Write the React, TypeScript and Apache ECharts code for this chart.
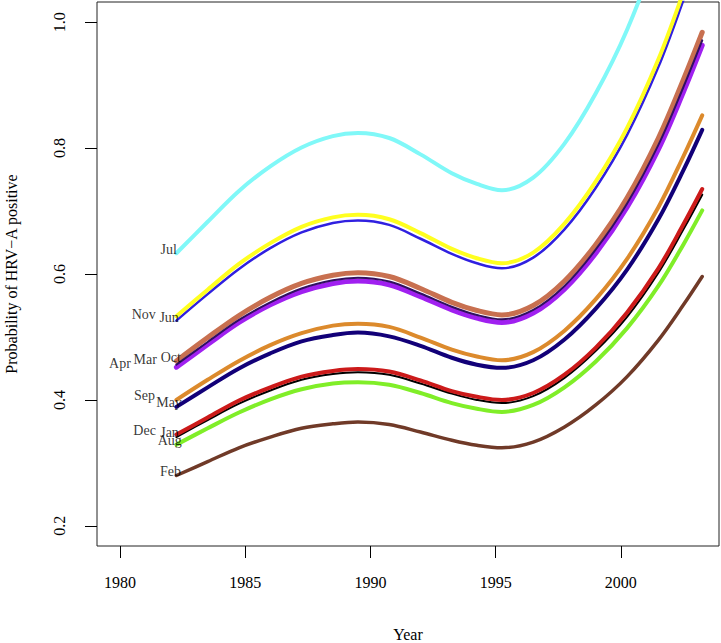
import React, { useEffect, useRef } from "react";
import * as echarts from "echarts";

// Years at which each fitted curve is sampled (includes the peak and trough years)
const years = [1982.25, 1983.5, 1984.75, 1986, 1987.25, 1988.5, 1989.5, 1990.75, 1992, 1993.25, 1994.25, 1995.25, 1996.5, 1997.75, 1999, 2000.25, 2001.5, 2002.5, 2003.25];

// Fitted probability of HRV-A positive, by month of sampling
const jul = [0.633, 0.683, 0.732, 0.771, 0.801, 0.819, 0.824, 0.816, 0.790, 0.760, 0.743, 0.733, 0.753, 0.807, 0.887, 0.988, 1.118, 1.245, 1.348];
const jun = [0.533, 0.575, 0.616, 0.649, 0.675, 0.690, 0.694, 0.687, 0.665, 0.640, 0.625, 0.617, 0.634, 0.680, 0.747, 0.832, 0.941, 1.048, 1.135];
const nov = [0.526, 0.568, 0.608, 0.641, 0.666, 0.681, 0.685, 0.678, 0.656, 0.632, 0.617, 0.609, 0.626, 0.671, 0.737, 0.821, 0.929, 1.035, 1.120];
const oct = [0.462, 0.499, 0.534, 0.563, 0.585, 0.598, 0.602, 0.596, 0.577, 0.555, 0.542, 0.535, 0.550, 0.589, 0.647, 0.721, 0.816, 0.909, 0.984];
const mar = [0.456, 0.492, 0.527, 0.555, 0.577, 0.590, 0.594, 0.588, 0.569, 0.548, 0.535, 0.528, 0.543, 0.581, 0.639, 0.712, 0.805, 0.897, 0.971];
const apr = [0.452, 0.488, 0.523, 0.551, 0.572, 0.585, 0.589, 0.583, 0.564, 0.543, 0.530, 0.523, 0.538, 0.576, 0.633, 0.706, 0.798, 0.889, 0.963];
const sep = [0.400, 0.432, 0.462, 0.487, 0.506, 0.518, 0.521, 0.516, 0.499, 0.480, 0.469, 0.463, 0.476, 0.510, 0.560, 0.624, 0.706, 0.787, 0.852];
const may = [0.389, 0.420, 0.450, 0.474, 0.493, 0.503, 0.507, 0.501, 0.486, 0.467, 0.456, 0.451, 0.463, 0.496, 0.545, 0.607, 0.687, 0.765, 0.829];
const dec = [0.345, 0.372, 0.399, 0.420, 0.437, 0.446, 0.449, 0.445, 0.431, 0.414, 0.405, 0.400, 0.411, 0.440, 0.483, 0.539, 0.609, 0.679, 0.735];
const jan = [0.341, 0.368, 0.394, 0.415, 0.432, 0.441, 0.444, 0.440, 0.426, 0.410, 0.400, 0.395, 0.406, 0.435, 0.478, 0.532, 0.602, 0.671, 0.726];
const aug = [0.329, 0.355, 0.380, 0.401, 0.417, 0.426, 0.428, 0.424, 0.411, 0.395, 0.386, 0.381, 0.392, 0.420, 0.461, 0.514, 0.581, 0.647, 0.701];
const feb = [0.280, 0.302, 0.324, 0.341, 0.355, 0.362, 0.365, 0.361, 0.349, 0.336, 0.328, 0.324, 0.333, 0.357, 0.392, 0.437, 0.495, 0.551, 0.596];

// Axis ticks
const xTicks = [1980, 1985, 1990, 1995, 2000];
const yTicks = [0.2, 0.4, 0.6, 0.8, 1.0];

const SERIF = "'Liberation Serif', 'DejaVu Serif', serif";

// Drawing order (later = on top), style, and month-label offsets
const defs = [
  { name: "Jul", values: jul, color: "#80f8f8", width: 4, off: [1, -4] },
  { name: "Nov", values: nov, color: "#3020e0", width: 2.5, off: [-20, -6] },
  { name: "Jun", values: jun, color: "#ffff20", width: 4, off: [3, 1] },
  { name: "Oct", values: oct, color: "#c87050", width: 5, off: [5, -3] },
  { name: "Apr", values: apr, color: "#a020f0", width: 5, off: [-45, -4] },
  { name: "Mar", values: mar, color: "#301060", width: 2, off: [-19, -5] },
  { name: "Sep", values: sep, color: "#dc8a2c", width: 4, off: [-21, -4] },
  { name: "May", values: may, color: "#120078", width: 4, off: [6, -4] },
  { name: "Jan", values: jan, color: "#000000", width: 2, off: [3, -5] },
  { name: "Dec", values: dec, color: "#cc1a1a", width: 4, off: [-20, -4] },
  { name: "Aug", values: aug, color: "#80ee28", width: 4, off: [6, -4] },
  { name: "Feb", values: feb, color: "#703a28", width: 3.5, off: [5, -4] },
];

export default function App() {
  const ref = useRef<HTMLDivElement>(null);
  useEffect(() => {
    if (!ref.current) return;
    const chart = echarts.init(ref.current, undefined, { renderer: "svg" });
    const lineSeries = defs.map((d) => ({
      type: "line",
      name: d.name,
      data: years.map((x, i) => [x, d.values[i]]),
      showSymbol: false,
      smooth: 0.35,
      clip: true,
      silent: true,
      lineStyle: { color: d.color, width: d.width, cap: "round", join: "round" },
    }));
    const labelSeries = {
      type: "scatter",
      silent: true,
      symbolSize: 1,
      itemStyle: { color: "rgba(0,0,0,0)" },
      z: 10,
      label: {
        show: true,
        position: "left",
        distance: 0,
        formatter: "{b}",
        fontFamily: SERIF,
        fontSize: 14,
        color: "#000",
      },
      data: defs.map((d) => ({
        name: d.name,
        value: [years[0], d.values[0]],
        label: { offset: d.off },
      })),
    };
    chart.setOption({
      animation: false,
      grid: {
        left: 97,
        right: 2,
        top: 2,
        bottom: 97,
        outerBoundsMode: "none",
        containLabel: false,
        show: true,
        borderColor: "#222",
        borderWidth: 1,
        backgroundColor: "transparent",
      },
      xAxis: {
        type: "value",
        min: 1979.08,
        max: 2003.92,
        name: "Year",
        nameLocation: "middle",
        nameGap: 80,
        nameTextStyle: { fontFamily: SERIF, fontSize: 16, color: "#000" },
        axisLine: { show: false },
        splitLine: { show: false },
        axisTick: { show: true, length: 12, customValues: xTicks, lineStyle: { color: "#000" } },
        axisLabel: {
          customValues: xTicks,
          margin: 28,
          fontFamily: SERIF,
          fontSize: 16,
          color: "#000",
          formatter: (v: number) => String(v),
        },
      },
      yAxis: {
        type: "value",
        min: 0.168,
        max: 1.032,
        name: "Probability of HRV\u2212A positive",
        nameLocation: "middle",
        nameGap: 78,
        nameTextStyle: { fontFamily: SERIF, fontSize: 16, color: "#000" },
        axisLine: { show: false },
        splitLine: { show: false },
        axisTick: { show: true, length: 12, customValues: yTicks, lineStyle: { color: "#000" } },
        axisLabel: {
          customValues: yTicks,
          rotate: 90,
          margin: 30,
          fontFamily: SERIF,
          fontSize: 16,
          color: "#000",
          formatter: (v: number) => v.toFixed(1),
        },
      },
      series: [...lineSeries, labelSeries],
    });
    return () => chart.dispose();
  }, []);
  return (
    <div
      ref={ref}
      style={{ position: "fixed", left: 0, top: 0, width: 721, height: 643, background: "#fff" }}
    />
  );
}
